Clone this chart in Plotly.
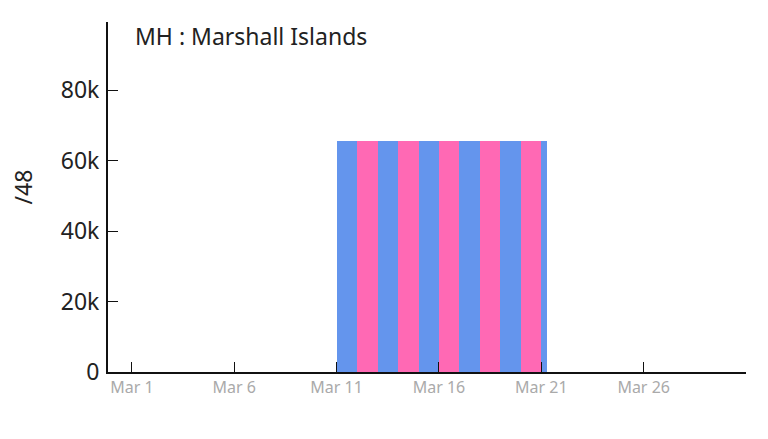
import plotly.graph_objects as go

# Data
day_index = [10, 11, 12, 13, 14, 15, 16, 17, 18, 19, 20]          # day of each bar
hours_covered = [24, 24, 24, 24, 24, 24, 24, 24, 24, 24, 7]        # hours of data in that day
prefix_count = [65536] * 11                                         # /48 count
tick_days = [0, 5, 10, 15, 20, 25, 30]
tick_labels = ["Mar 1", "Mar 6", "Mar 11", "Mar 16", "Mar 21", "Mar 26", "Mar 31"]
y_ticks = [0, 20000, 40000, 60000, 80000]
y_tick_labels = ["0", "20k", "40k", "60k", "80k"]
title_text = "MH : Marshall Islands"
y_title = "/48"

BLUE = "#6495ED"
PINK = "#FF69B4"

x_centers = [d + h / 48 for d, h in zip(day_index, hours_covered)]
widths = [h / 24 for h in hours_covered]
colors = [BLUE if i % 2 == 0 else PINK for i in range(len(day_index))]

fig = go.Figure(
    go.Bar(
        x=x_centers,
        y=prefix_count,
        width=widths,
        marker=dict(color=colors, line=dict(width=0)),
        hoverinfo="x+y",
    )
)

font = "Noto Sans, Open Sans, sans-serif"
fig.update_layout(
    width=768,
    height=439,
    margin=dict(l=108, r=22, t=22, b=67),
    paper_bgcolor="white",
    plot_bgcolor="white",
    font=dict(family=font, size=23, color="#222"),
    showlegend=False,
    bargap=0,
    annotations=[
        dict(
            text=title_text,
            xref="paper", yref="paper",
            x=0.039, y=0.96,
            xanchor="left", yanchor="middle",
            showarrow=False,
            font=dict(size=23, color="#222", family=font),
        ),
        dict(
            text=y_title,
            xref="paper", yref="paper",
            x=(22.5 - 108) / 638, y=(372 - 187) / 350,
            xanchor="center", yanchor="middle",
            textangle=-90,
            showarrow=False,
            font=dict(size=23, color="#222", family=font),
        ),
    ],
)
fig.update_xaxes(
    range=[-1.17, 30],
    tickmode="array",
    tickvals=tick_days,
    ticktext=tick_labels,
    showgrid=False,
    zeroline=False,
    showline=True,
    linecolor="#111",
    linewidth=2,
    ticks="inside",
    ticklen=10,
    tickwidth=1,
    tickcolor="#111",
    tickfont=dict(size=16, color="#aaa"),
)
fig.update_yaxes(
    range=[0, 99300],
    tickmode="array",
    tickvals=y_ticks,
    ticktext=y_tick_labels,
    showgrid=False,
    zeroline=False,
    showline=True,
    linecolor="#111",
    linewidth=2,
    ticks="inside",
    ticklen=10,
    tickwidth=1,
    tickcolor="#111",
    ticklabelstandoff=2,
)

fig.write_html(
    "out.html",
    config={"displayModeBar": False},
    post_script="document.body.style.margin='0px';document.body.style.overflow='hidden';",
)
